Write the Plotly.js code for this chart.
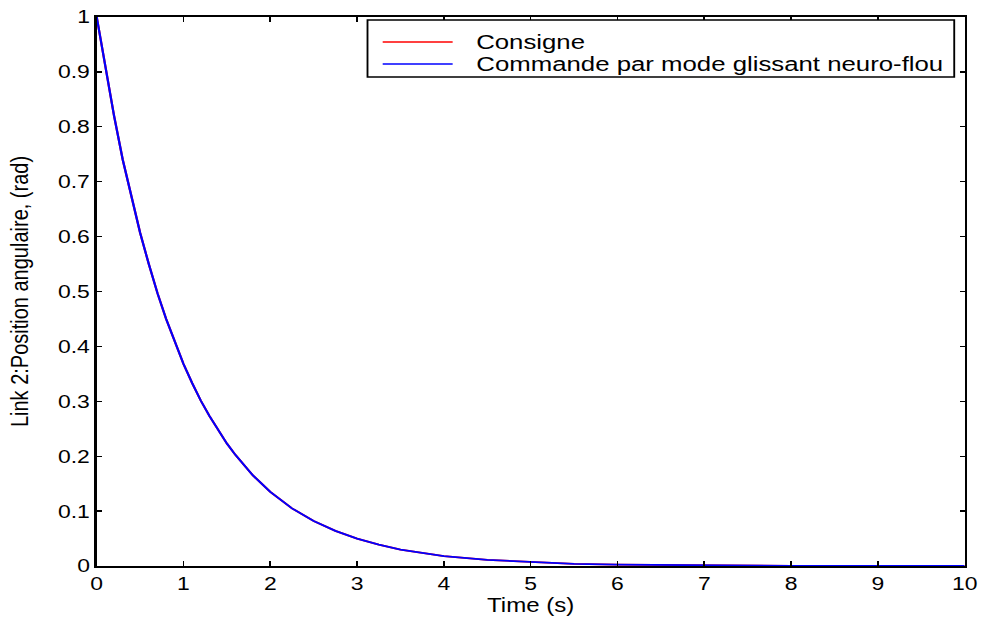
<!DOCTYPE html>
<html><head><meta charset="utf-8">
<script src="https://cdn.plot.ly/plotly-3.0.1.min.js"></script>
<style>
html,body{margin:0;padding:0;background:#fff;overflow:hidden;}
#wrap{width:982px;height:624px;overflow:hidden;}
#chart{width:792px;height:624px;transform:scaleX(1.2399);transform-origin:0 0;}
</style>
</head><body><div id="wrap"><div id="chart"></div></div>
<script>
const timeS = [0,0.1,0.2,0.3,0.4,0.5,0.6,0.7,0.8,0.9,1.0,1.1,1.2,1.3,1.4,1.5,1.6,1.7,1.8,1.9,2.0,2.25,2.5,2.75,3.0,3.25,3.5,3.75,4.0,4.5,5.0,5.5,6.0,7.0,8.0,9.0,10.0];
const consigne = [1.0,0.905,0.82,0.74,0.67,0.607,0.55,0.497,0.45,0.407,0.368,0.333,0.301,0.273,0.247,0.223,0.202,0.183,0.165,0.150,0.135,0.105,0.082,0.064,0.050,0.039,0.030,0.024,0.018,0.011,0.007,0.004,0.0025,0.001,0.0003,0.0001,0.0];
const commande = [1.0,0.905,0.82,0.74,0.67,0.607,0.55,0.497,0.45,0.407,0.368,0.333,0.301,0.273,0.247,0.223,0.202,0.183,0.165,0.150,0.135,0.105,0.082,0.064,0.050,0.039,0.030,0.024,0.018,0.011,0.007,0.004,0.0025,0.001,0.0003,0.0001,0.0];
const seriesNames = ['Consigne','Commande par mode glissant neuro-flou'];
const seriesColors = ['#ff0000','#0000ff'];
const xTicks = [0,1,2,3,4,5,6,7,8,9,10];
const yTicks = [0,0.1,0.2,0.3,0.4,0.5,0.6,0.7,0.8,0.9,1];
const yTickText = ['0','0.1','0.2','0.3','0.4','0.5','0.6','0.7','0.8','0.9','1'];
const xTitle = 'Time (s)';
const yTitle = 'Link 2:Position angulaire, (rad)';

const fam = '"Liberation Sans", Arial, sans-serif';
const tickFont = {family:fam, size:18.5, color:'#000'};
const traces = [
  {x:timeS, y:consigne, mode:'lines', name:seriesNames[0], line:{color:seriesColors[0], width:1.8}},
  {x:timeS, y:commande, mode:'lines', name:seriesNames[1], line:{color:seriesColors[1], width:1.8}}
];
const axisCommon = {showgrid:false, zeroline:false, showline:true, linecolor:'#000', linewidth:1.8, mirror:'ticks',
  ticks:'inside', tickwidth:1.3, tickcolor:'#000', tickfont:tickFont, automargin:false};

// custom MATLAB-style legend (paper coordinates)
const lg = {x0:0.312, x1:0.988, y0:0.8907, y1:0.9945, lx0:0.3295, lx1:0.4101, tx:0.4343, ys:[0.9545,0.9144]};
const shapes = [{type:'rect', xref:'paper', yref:'paper', x0:lg.x0, x1:lg.x1, y0:lg.y0, y1:lg.y1,
  line:{color:'#000', width:1.5}, fillcolor:'#fff', layer:'above'}];
const annotations = [];
seriesNames.forEach((nm,i)=>{
  shapes.push({type:'line', xref:'paper', yref:'paper', x0:lg.lx0, x1:lg.lx1, y0:lg.ys[i], y1:lg.ys[i],
    line:{color:seriesColors[i], width:1.5}, layer:'above'});
  annotations.push({xref:'paper', yref:'paper', x:lg.tx, y:lg.ys[i], xanchor:'left', yanchor:'middle',
    text:nm, showarrow:false, font:{family:fam, size:20.8, color:'#000'}});
});

const layout = {
  width:792, height:624, paper_bgcolor:'#fff', plot_bgcolor:'#fff',
  margin:{l:78.2, r:13.7, t:17, b:58},
  font:{family:fam, color:'#000'}, showlegend:false,
  xaxis:Object.assign({}, axisCommon, {range:[0,10], tickvals:xTicks, ticktext:xTicks.map(String), ticklen:5,
    title:{text:xTitle, font:{family:fam, size:19.4}, standoff:4}}),
  yaxis:Object.assign({}, axisCommon, {range:[0,1], tickvals:yTicks, ticktext:yTickText, ticklen:4,
    title:{text:yTitle, font:{family:fam, size:20}, standoff:18}}),
  shapes:shapes, annotations:annotations
};
Plotly.newPlot('chart', traces, layout, {displayModeBar:false, staticPlot:true});
</script></body></html>
